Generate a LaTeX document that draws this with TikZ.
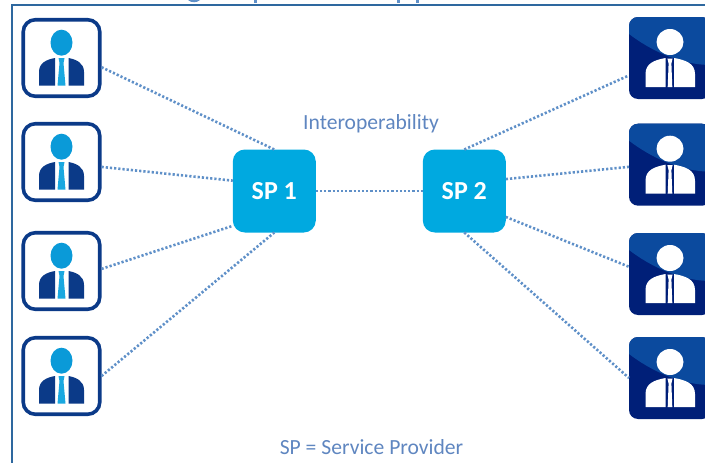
\documentclass[tikz,border=0pt]{standalone}
\usepackage{fontspec}
\setmainfont{Carlito}
\definecolor{framecol}{HTML}{2E689F}
\definecolor{linkcol}{HTML}{5F90C8}
\definecolor{labelcol}{HTML}{5F86C0}
\definecolor{spcol}{HTML}{00A9E0}
\definecolor{navy}{HTML}{0B3A88}
\definecolor{headcol}{HTML}{0A9AD8}
\definecolor{tiecol}{HTML}{1AA8E0}
\definecolor{darkbox}{HTML}{001F78}
\definecolor{glossbox}{HTML}{0B4A9E}
\tikzset{
  x=1pt,y=-1pt,
  clientbox/.style={draw=navy,line width=3.6pt,fill=white,rounded corners=12pt,minimum size=76.5pt,inner sep=0pt},
  peerbox/.style={fill=darkbox,rounded corners=9pt,minimum size=82pt,inner sep=0pt,outer sep=0pt},
  spbox/.style={fill=spcol,rounded corners=12pt,minimum size=83pt,inner sep=0pt,outer sep=0pt,text=white,font=\bfseries\fontsize{26}{30}\selectfont},
  note/.style={text=labelcol,font=\fontsize{21.6}{24}\selectfont,inner sep=0pt},
  link/.style={draw=linkcol,line width=2.6pt,dash pattern=on 2.2pt off 2pt},
  pics/clientglyph/.style={code={
    \fill[headcol] (0,-15.3) ellipse[x radius=11,y radius=13];
    \fill[navy] (-22.5,27.7) -- (-22.5,14) .. controls (-22.5,5) and (-15,1.5) .. (-6.5,0) -- (-6.5,27.7) -- cycle;
    \fill[navy] (22.5,27.7) -- (22.5,14) .. controls (22.5,5) and (15,1.5) .. (7,0) -- (7,27.7) -- cycle;
    \fill[tiecol] (-3,0) -- (3,0) -- (2,5) -- (4,27.7) -- (-4,27.7) -- (-2,5) -- cycle;
  }},
  pics/peerglyph/.style={code={
    \begin{scope}
      \clip[rounded corners=9pt] (-41,-41) rectangle (41,41);
      \fill[glossbox] (-41,-41) -- (-41,-24) .. controls (-20,-8) and (10,7) .. (41,7) -- (41,-41) -- cycle;
    \end{scope}
    \fill[white] (0,-16) ellipse[x radius=13.5,y radius=13];
    \fill[white] (-24.5,29) -- (-24.5,16) .. controls (-24.5,5) and (-15,2) .. (-4.5,0) -- (-4.5,29) -- cycle;
    \fill[white] (25,29) -- (25,16) .. controls (25,5) and (15,2) .. (4,0) -- (4,29) -- cycle;
    \fill[darkbox] (-4.5,0) rectangle (4,29);
    \fill[white] (-2.6,0.5) -- (2.6,0.5) -- (1.4,5.5) -- (2.3,29) -- (-2.3,29) -- (-1.4,5.5) -- cycle;
  }}
}
\begin{document}
\begin{tikzpicture}
\useasboundingbox (0,0) rectangle (705,463);
\clip (0,0) rectangle (705,463);
% cut-off title remnants and frame
\fill[linkcol] (188,0) .. controls (191,3) and (197,3) .. (200,0) -- cycle;
\fill[linkcol] (254,0) rectangle (257,2.5);
\fill[linkcol] (397,0) rectangle (399.5,2.5);
\fill[linkcol] (416,0) rectangle (418.5,2.5);
\draw[framecol,line width=2pt] (12,463) -- (12,5) -- (705,5);
% clients
\node[clientbox] (l1) at (61.5,58) {};
\node[clientbox] (l2) at (61.5,162) {};
\node[clientbox] (l3) at (61.5,271) {};
\node[clientbox] (l4) at (61.5,376) {};
\pic at (l1) {clientglyph};
\pic at (l2) {clientglyph};
\pic at (l3) {clientglyph};
\pic at (l4) {clientglyph};
% peers
\node[peerbox] (r1) at (670,58) {};
\node[peerbox] (r2) at (670,164.7) {};
\node[peerbox] (r3) at (670,274) {};
\node[peerbox] (r4) at (670,378) {};
\pic at (r1) {peerglyph};
\pic at (r2) {peerglyph};
\pic at (r3) {peerglyph};
\pic at (r4) {peerglyph};
% providers
\node[spbox] (sp1) at (274.3,191) {SP 1};
\node[spbox] (sp2) at (464.3,191) {SP 2};
% connectors
\draw[link] (l1.-13.5) -- (sp1.north);
\draw[link] (l2.-7) -- (sp1.166.6);
\draw[link] (l3.3) -- (sp1.220);
\draw[link] (l4.east) -- (sp1.south);
\draw[link] (sp1.east) -- (sp2.west);
\draw[link] (sp2.north) -- (r1.203);
\draw[link] (sp2.16) -- (r2.183);
\draw[link] (sp2.-32) -- (r3.170);
\draw[link] (sp2.south) -- (r4.west);
% labels
\node[note] (interop) at (371,124) {Interoperability};
\node[note] (legend) at (371.5,447) {SP = Service Provider};
\end{tikzpicture}
\end{document}
